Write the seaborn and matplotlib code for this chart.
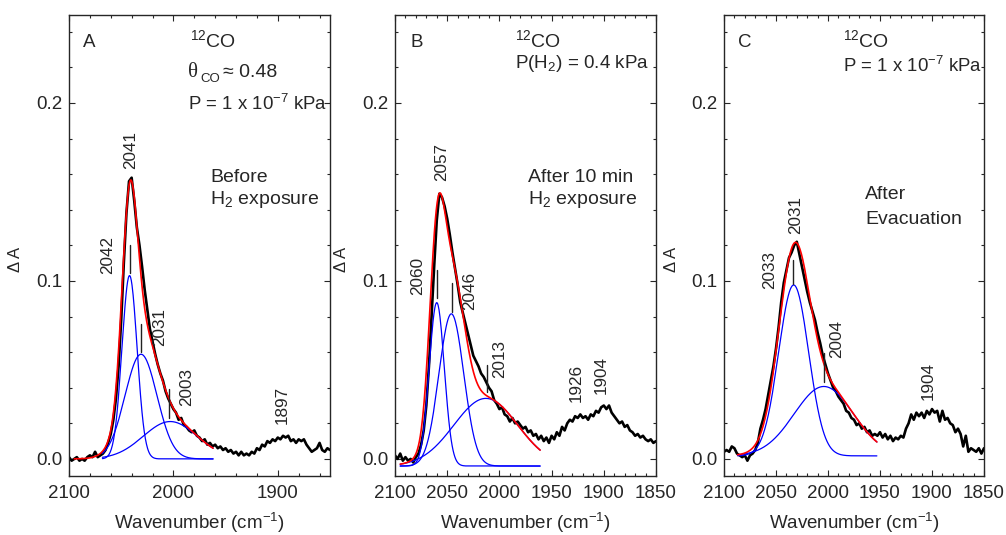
import numpy as np
import pandas as pd
import matplotlib
matplotlib.use("Agg")
import matplotlib.pyplot as plt
import seaborn as sns
from matplotlib.ticker import MultipleLocator, FormatStrFormatter

# ---------------- data ----------------
wn_start, wn_end, wn_step = 2100.0, 1850.0, 2.5
wavenumber = np.arange(wn_start, wn_end - 0.1, -wn_step)

spec_A = [0.001, -0.001, 0.000, 0.001, -0.001, 0.000, -0.001, 0.001, 0.002, 0.001,
          0.004, 0.001, 0.002, 0.003, 0.005, 0.009, 0.014, 0.022, 0.034, 0.052,
          0.078, 0.110, 0.138, 0.156, 0.158, 0.145, 0.130, 0.120, 0.108, 0.095,
          0.084, 0.073, 0.066, 0.059, 0.053, 0.048, 0.044, 0.038, 0.034, 0.031,
          0.028, 0.026, 0.022, 0.023, 0.019, 0.018, 0.016, 0.015, 0.016, 0.013,
          0.012, 0.010, 0.011, 0.008, 0.009, 0.007, 0.008, 0.006, 0.007, 0.005,
          0.006, 0.004, 0.005, 0.003, 0.004, 0.002, 0.004, 0.002, 0.003, 0.002,
          0.004, 0.003, 0.006, 0.005, 0.008, 0.007, 0.010, 0.009, 0.011, 0.010,
          0.012, 0.011, 0.013, 0.012, 0.013, 0.010, 0.011, 0.009, 0.011, 0.010,
          0.011, 0.008, 0.006, 0.004, 0.005, 0.006, 0.009, 0.005, 0.004, 0.006,
          0.005]

spec_B = [0.002, 0.000, 0.003, -0.001, 0.001, -0.001, 0.000, -0.002, 0.001, 0.003,
          0.008, 0.016, 0.030, 0.052, 0.080, 0.108, 0.134, 0.149, 0.147, 0.142,
          0.135, 0.126, 0.116, 0.107, 0.098, 0.088, 0.082, 0.076, 0.070, 0.064,
          0.058, 0.055, 0.052, 0.048, 0.046, 0.043, 0.040, 0.038, 0.033, 0.031,
          0.028, 0.029, 0.025, 0.024, 0.021, 0.023, 0.020, 0.021, 0.019, 0.017,
          0.018, 0.015, 0.016, 0.013, 0.014, 0.011, 0.013, 0.010, 0.012, 0.009,
          0.013, 0.011, 0.015, 0.013, 0.018, 0.016, 0.020, 0.022, 0.021, 0.024,
          0.023, 0.025, 0.023, 0.024, 0.022, 0.025, 0.024, 0.027, 0.026, 0.029,
          0.030, 0.028, 0.030, 0.026, 0.024, 0.022, 0.020, 0.021, 0.018, 0.019,
          0.016, 0.015, 0.013, 0.014, 0.012, 0.013, 0.011, 0.010, 0.011, 0.009,
          0.010]

spec_C = [0.004, 0.005, 0.004, 0.007, 0.006, 0.003, 0.002, 0.001, 0.002, -0.001,
          0.002, 0.003, 0.005, 0.009, 0.017, 0.022, 0.028, 0.036, 0.044, 0.052,
          0.062, 0.074, 0.088, 0.099, 0.106, 0.113, 0.116, 0.120, 0.122, 0.115,
          0.108, 0.101, 0.094, 0.088, 0.083, 0.078, 0.071, 0.065, 0.058, 0.053,
          0.048, 0.044, 0.040, 0.038, 0.035, 0.033, 0.031, 0.027, 0.026, 0.023,
          0.022, 0.019, 0.020, 0.017, 0.018, 0.015, 0.016, 0.013, 0.014, 0.013,
          0.015, 0.012, 0.014, 0.011, 0.013, 0.010, 0.012, 0.011, 0.013, 0.012,
          0.017, 0.020, 0.025, 0.022, 0.026, 0.024, 0.026, 0.023, 0.027, 0.025,
          0.028, 0.026, 0.027, 0.021, 0.027, 0.022, 0.023, 0.020, 0.019, 0.015,
          0.017, 0.014, 0.007, 0.013, 0.004, 0.006, 0.005, 0.004, 0.006, 0.003,
          0.006]

# Gaussian fit components: (centre cm-1, amplitude, FWHM cm-1)
peaks_A = [(2042, 0.103, 17), (2031, 0.0588, 36), (2003, 0.021, 61)]
peaks_B = [(2060, 0.0918, 17), (2046, 0.0855, 28), (2013, 0.038, 72)]
peaks_C = [(2033, 0.096, 34), (2004, 0.039, 67)]
offset_A, offset_B, offset_C = 0.0, -0.004, 0.0017
blue_range_A, red_range_A = (2068, 1962), (2095, 1962)
blue_range_B, red_range_B = (2095, 1961), (2095, 1961)
blue_range_C, red_range_C = (2087, 1953), (2087, 1953)

panel_letters = ["A", "B", "C"]
iso_label = r"$^{12}$CO"
cond_A = ["P = 1 x 10$^{-7}$ kPa"]
cond_B = ["P(H$_2$) = 0.4 kPa"]
cond_C = ["P = 1 x 10$^{-7}$ kPa"]
state_A = ["Before", "H$_2$ exposure"]
state_B = ["After 10 min", "H$_2$ exposure"]
state_C = ["After", "Evacuation"]

# peak labels: (text, wn, y)
labels_A = [("2041", 2041, 0.1736), ("2042", 2062.9, 0.1146), ("2031", 2013.3, 0.0742),
            ("2003", 1987.6, 0.0404), ("1897", 1896.2, 0.0303)]
labels_B = [("2057", 2055.2, 0.1669), ("2060", 2078, 0.1028), ("2046", 2028.4, 0.0944),
            ("2013", 1999.8, 0.0562), ("1926", 1926.3, 0.0427), ("1904", 1902.5, 0.0472)]
labels_C = [("2031", 2030.8, 0.1371), ("2033", 2056.5, 0.1062), ("2004", 1991.3, 0.0674),
            ("1904", 1903.8, 0.0438)]
# short marker lines: (wn, y0, y1)
marks_A = [(2041.9, 0.1045, 0.120), (2031.4, 0.060, 0.076), (2003.8, 0.023, 0.039)]
marks_B = [(2059.9, 0.0905, 0.106), (2045.6, 0.0826, 0.099), (2012.2, 0.0376, 0.053)]
marks_C = [(2033.7, 0.098, 0.112), (2003.8, 0.043, 0.0596)]

# ---------------- style ----------------
sns.set_style("ticks")
plt.rcParams["font.family"] = ["Liberation Sans", "DejaVu Sans"]
plt.rcParams["mathtext.fontset"] = "custom"
plt.rcParams["mathtext.rm"] = "Liberation Sans"
plt.rcParams["mathtext.it"] = "Liberation Sans:italic"
plt.rcParams["mathtext.bf"] = "Liberation Sans:bold"
plt.rcParams["axes.linewidth"] = 1.0

W, H = 1006, 535
fig = plt.figure(figsize=(W / 100, H / 100), dpi=100)
ax_px = [(69, 15, 330, 476), (395, 15, 656, 476), (724, 15, 984, 476)]


def gauss(x, c, a, w):
    return a * np.exp(-4 * np.log(2) * ((x - c) / w) ** 2)


def px_ax(box, px, py):
    l, t, r, b = box
    return (px - l) / (r - l), (b - py) / (b - t)


panels = [
    dict(spec=spec_A, peaks=peaks_A, off=offset_A, br=blue_range_A, rr=red_range_A,
         cond=cond_A, state=state_A, labels=labels_A, marks=marks_A, major=100, minor=20),
    dict(spec=spec_B, peaks=peaks_B, off=offset_B, br=blue_range_B, rr=red_range_B,
         cond=cond_B, state=state_B, labels=labels_B, marks=marks_B, major=50, minor=10),
    dict(spec=spec_C, peaks=peaks_C, off=offset_C, br=blue_range_C, rr=red_range_C,
         cond=cond_C, state=state_C, labels=labels_C, marks=marks_C, major=50, minor=10),
]

for i, (p, box) in enumerate(zip(panels, ax_px)):
    l, t, r, b = box
    ax = fig.add_axes([l / W, 1 - b / H, (r - l) / W, (b - t) / H])
    df = pd.DataFrame({"wn": wavenumber, "dA": p["spec"]})
    sns.lineplot(data=df, x="wn", y="dA", ax=ax, color="black", lw=1.9, errorbar=None)
    xb = np.linspace(p["br"][0], p["br"][1], 300)
    for c, a, w in p["peaks"]:
        sns.lineplot(x=xb, y=gauss(xb, c, a, w) + p["off"], ax=ax, color="#0000ff",
                     lw=0.9, errorbar=None)
    xr = np.linspace(p["rr"][0], p["rr"][1], 300)
    yr = sum(gauss(xr, c, a, w) for c, a, w in p["peaks"]) + p["off"]
    sns.lineplot(x=xr, y=yr, ax=ax, color="#ff0000", lw=1.2, errorbar=None)
    for wx, y0, y1 in p["marks"]:
        ax.plot([wx, wx], [y0, y1], color="#222222", lw=1.0)
    for txt, wx, wy in p["labels"]:
        ax.text(wx, wy, txt, rotation=90, ha="center", va="center", fontsize=12.3)

    ax.set_xlim(2100, 1850)
    ax.set_ylim(-0.0096, 0.2494)
    ax.xaxis.set_major_locator(MultipleLocator(p["major"]))
    ax.xaxis.set_minor_locator(MultipleLocator(p["minor"]))
    ax.xaxis.set_major_formatter(FormatStrFormatter("%d"))
    ax.yaxis.set_major_locator(MultipleLocator(0.1))
    ax.yaxis.set_minor_locator(MultipleLocator(0.02))
    ax.yaxis.set_major_formatter(FormatStrFormatter("%.1f"))
    ax.tick_params(which="both", direction="in", top=True, right=True, width=0.8,
                   labelsize=13.5)
    ax.tick_params(which="major", length=4.2)
    ax.tick_params(which="minor", length=2.5)
    ax.tick_params(axis="y", pad=5)
    ax.tick_params(axis="x", pad=6.5)
    for s in ax.spines.values():
        s.set_linewidth(1.0)

    ax.set_xlabel("Wavenumber (cm$^{-1}$)", fontsize=13.5)
    ax.xaxis.set_label_coords(0.5, -0.076)
    ax.set_ylabel("Δ A", fontsize=12)
    ax.yaxis.set_label_coords(-0.175, 0.47)

    # panel letter and conditions
    fx, fy = px_ax(box, [83, 410, 738][i], 47)
    ax.text(fx, fy, panel_letters[i], transform=ax.transAxes, fontsize=13.5, va="baseline")
    cx = [190, 515, 843][i]
    fx, fy = px_ax(box, cx, 47)
    ax.text(fx, fy, iso_label, transform=ax.transAxes, fontsize=14, va="baseline")

    if i == 0:
        fx, fy = px_ax(box, 188, 77)
        ax.text(fx, fy, "θ", transform=ax.transAxes, fontsize=15, va="baseline",
                family="Liberation Serif")
        fx, fy = px_ax(box, 200, 82)
        ax.text(fx, fy, "CO", transform=ax.transAxes, fontsize=9.5, va="baseline")
        fx, fy = px_ax(box, 223, 77)
        ax.text(fx, fy, "≈ 0.48", transform=ax.transAxes, fontsize=14, va="baseline")
        fx, fy = px_ax(box, 188, 110)
        ax.text(fx, fy, p["cond"][0], transform=ax.transAxes, fontsize=13.4, va="baseline")
        sx, sy = 210, [182, 204]
    elif i == 1:
        fx, fy = px_ax(box, 515, 68.5)
        ax.text(fx, fy, p["cond"][0], transform=ax.transAxes, fontsize=13.6, va="baseline")
        sx, sy = 528, [182, 204]
    else:
        fx, fy = px_ax(box, 843, 72.5)
        ax.text(fx, fy, p["cond"][0], transform=ax.transAxes, fontsize=13.4, va="baseline")
        sx, sy = 865, [199, 224]
    for line, yy in zip(p["state"], sy):
        fx, fy = px_ax(box, sx, yy)
        ax.text(fx, fy, line, transform=ax.transAxes, fontsize=14, va="baseline")

fig.savefig("out.png", dpi=100)
